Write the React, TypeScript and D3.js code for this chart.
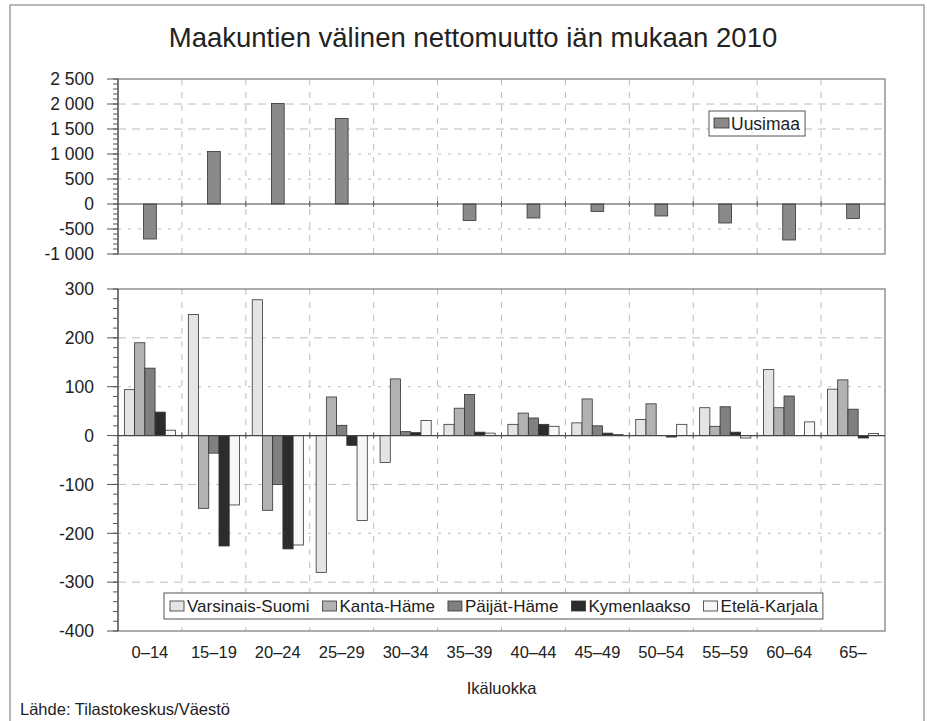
import React, { useEffect, useRef } from "react";
import * as d3 from "d3";

// age groups (x categories)
const categories = ["0–14", "15–19", "20–24", "25–29", "30–34", "35–39", "40–44", "45–49", "50–54", "55–59", "60–64", "65–"];

// top panel
const uusimaa = [-700, 1050, 2010, 1710, 0, -330, -280, -150, -240, -380, -720, -290];
const topTicks = [2500, 2000, 1500, 1000, 500, 0, -500, -1000];

// bottom panel, one array per region
const regionNames = ["Varsinais-Suomi", "Kanta-Häme", "Päijät-Häme", "Kymenlaakso", "Etelä-Karjala"];
const varsinaisSuomi = [94, 248, 278, -280, -55, 23, 23, 26, 33, 57, 135, 95];
const kantaHame = [190, -149, -153, 79, 116, 56, 46, 75, 65, 19, 57, 114];
const paijatHame = [138, -36, -100, 21, 8, 84, 36, 20, 0, 59, 81, 54];
const kymenlaakso = [48, -226, -232, -20, 6, 7, 23, 5, -3, 7, 0, -5];
const etelaKarjala = [11, -142, -224, -174, 31, 5, 19, 2, 23, -5, 28, 4];
const bottomTicks = [300, 200, 100, 0, -100, -200, -300, -400];

const title = "Maakuntien välinen nettomuutto iän mukaan 2010";
const xTitle = "Ikäluokka";
const source = "Lähde: Tilastokeskus/Väestö";

const regionColors = ["#e4e4e4", "#b2b2b2", "#808080", "#2c2c2c", "#f7f7f7"];
const uusimaaColor = "#8a8a8a";
const font = "'Liberation Sans', Arial, sans-serif";

const fiFormat = d3.formatLocale({
  decimal: ",",
  thousands: " ",
  grouping: [3],
  currency: ["", " €"],
  minus: "-",
}).format(",d");

export default function App() {
  const ref = useRef<SVGSVGElement>(null);

  useEffect(() => {
    document.body.style.margin = "0";
    const svg = d3.select(ref.current);
    svg.selectAll("*").remove();

    const left = 118;
    const right = 885;

    // outer frame
    svg
      .append("rect")
      .attr("x", 10)
      .attr("y", 5)
      .attr("width", 914)
      .attr("height", 740)
      .attr("fill", "white")
      .attr("stroke", "#8a8a8a")
      .attr("stroke-width", 1.2);

    svg
      .append("text")
      .attr("x", 473)
      .attr("y", 47)
      .attr("text-anchor", "middle")
      .attr("font-size", 27.5)
      .attr("fill", "#222")
      .text(title);

    const x = d3.scaleBand().domain(categories).range([left, right]).paddingInner(0).paddingOuter(0);

    // draws frame, grid, y axis for a panel
    function panel(y: d3.ScaleLinear<number, number>, ticks: number[], minorStep: number, longDash: number[]) {
      const [lo, hi] = y.domain();
      const g = svg.append("g");
      const top = y(hi);
      const bottom = y(lo);

      // horizontal grid
      g.selectAll("line.hgrid")
        .data(ticks.filter((t) => t !== 0 && t !== hi && t !== lo))
        .join("line")
        .attr("x1", left)
        .attr("x2", right)
        .attr("y1", (d) => y(d))
        .attr("y2", (d) => y(d))
        .attr("stroke", "#bcbcbc")
        .attr("stroke-width", 1)
        .attr("stroke-dasharray", (d) => (longDash.includes(d) ? "8,6" : "3,7"));

      // vertical grid at category boundaries
      g.selectAll("line.vgrid")
        .data(categories.slice(1))
        .join("line")
        .attr("x1", (d) => x(d)!)
        .attr("x2", (d) => x(d)!)
        .attr("y1", top)
        .attr("y2", bottom)
        .attr("stroke", "#bcbcbc")
        .attr("stroke-dasharray", "6,7");

      // plot border
      g.append("rect")
        .attr("x", left)
        .attr("y", top)
        .attr("width", right - left)
        .attr("height", bottom - top)
        .attr("fill", "none")
        .attr("stroke", "#777")
        .attr("stroke-width", 1.2);

      // minor ticks
      g.selectAll("line.minor")
        .data(d3.range(lo, hi + 0.001, minorStep))
        .join("line")
        .attr("x1", left - 5)
        .attr("x2", left)
        .attr("y1", (d) => y(d))
        .attr("y2", (d) => y(d))
        .attr("stroke", "#555");

      // major ticks + labels
      g.selectAll("line.major")
        .data(ticks)
        .join("line")
        .attr("x1", left - 11)
        .attr("x2", left)
        .attr("y1", (d) => y(d))
        .attr("y2", (d) => y(d))
        .attr("stroke", "#555");

      g.selectAll("text.tick")
        .data(ticks)
        .join("text")
        .attr("x", 94)
        .attr("y", (d) => y(d))
        .attr("dy", "0.36em")
        .attr("text-anchor", "end")
        .attr("font-size", 17.5)
        .attr("fill", "#222")
        .text((d) => fiFormat(d));

      // left axis line
      g.append("line")
        .attr("x1", left)
        .attr("x2", left)
        .attr("y1", top)
        .attr("y2", bottom)
        .attr("stroke", "#555")
        .attr("stroke-width", 1.2);

      return g;
    }

    function zeroLine(y: d3.ScaleLinear<number, number>) {
      svg
        .append("line")
        .attr("x1", left)
        .attr("x2", right)
        .attr("y1", y(0))
        .attr("y2", y(0))
        .attr("stroke", "#444")
        .attr("stroke-width", 1.2);
      svg
        .append("g")
        .selectAll("line")
        .data(categories.slice(1))
        .join("line")
        .attr("x1", (d) => x(d)!)
        .attr("x2", (d) => x(d)!)
        .attr("y1", y(0) - 3)
        .attr("y2", y(0) + 3)
        .attr("stroke", "#555");
    }

    // ---------- top panel: Uusimaa ----------
    const yTop = d3.scaleLinear().domain([-1000, 2500]).range([254, 79]);
    panel(yTop, topTicks, 100, [2000, 1500]);

    const topBarW = x.bandwidth() * 0.2;
    svg
      .append("g")
      .selectAll("rect")
      .data(uusimaa)
      .join("rect")
      .attr("x", (d, i) => x(categories[i])! + (x.bandwidth() - topBarW) / 2)
      .attr("y", (d) => yTop(Math.max(0, d)))
      .attr("width", topBarW)
      .attr("height", (d) => Math.abs(yTop(d) - yTop(0)))
      .attr("fill", uusimaaColor)
      .attr("stroke", "#333")
      .attr("stroke-width", 0.8);
    zeroLine(yTop);

    // top legend
    const tl = svg.append("g");
    const tlBox = tl
      .append("rect")
      .attr("x", 709)
      .attr("y", 111)
      .attr("height", 25)
      .attr("fill", "white")
      .attr("stroke", "#555");
    tl.append("rect")
      .attr("x", 714)
      .attr("y", 118)
      .attr("width", 15)
      .attr("height", 10)
      .attr("fill", uusimaaColor)
      .attr("stroke", "#333")
      .attr("stroke-width", 0.8);
    const tlText = tl
      .append("text")
      .attr("x", 731)
      .attr("y", 123.5)
      .attr("dy", "0.36em")
      .attr("font-size", 17.5)
      .attr("fill", "#222")
      .text("Uusimaa");
    tlBox.attr("width", (tlText.node() as SVGTextElement).getComputedTextLength() + 27);

    // ---------- bottom panel: other regions ----------
    const yBot = d3.scaleLinear().domain([-400, 300]).range([631, 289]);
    panel(yBot, bottomTicks, 20, [200, -100, -300]);

    const series = [varsinaisSuomi, kantaHame, paijatHame, kymenlaakso, etelaKarjala];
    const inner = d3
      .scaleBand()
      .domain(regionNames)
      .range([x.bandwidth() * 0.1, x.bandwidth() * 0.9])
      .paddingInner(0);

    series.forEach((vals, s) => {
      svg
        .append("g")
        .selectAll("rect")
        .data(vals)
        .join("rect")
        .attr("x", (d, i) => x(categories[i])! + inner(regionNames[s])!)
        .attr("y", (d) => yBot(Math.max(0, d)))
        .attr("width", inner.bandwidth())
        .attr("height", (d) => Math.abs(yBot(d) - yBot(0)))
        .attr("fill", regionColors[s])
        .attr("stroke", "#333")
        .attr("stroke-width", 0.8);
    });
    zeroLine(yBot);

    // bottom legend
    const bl = svg.append("g");
    const blBox = bl
      .append("rect")
      .attr("x", 164)
      .attr("y", 593)
      .attr("height", 26)
      .attr("fill", "white")
      .attr("stroke", "#555");
    let cx = 170;
    regionNames.forEach((name, s) => {
      bl.append("rect")
        .attr("x", cx)
        .attr("y", 601)
        .attr("width", 14)
        .attr("height", 10)
        .attr("fill", regionColors[s])
        .attr("stroke", "#333")
        .attr("stroke-width", 0.8);
      const t = bl
        .append("text")
        .attr("x", cx + 17)
        .attr("y", 606)
        .attr("dy", "0.36em")
        .attr("font-size", 17)
        .attr("fill", "#222")
        .text(name);
      cx += 17 + (t.node() as SVGTextElement).getComputedTextLength() + 13;
    });
    blBox.attr("width", cx - 164 - 8);

    // x labels
    svg
      .append("g")
      .selectAll("text")
      .data(categories)
      .join("text")
      .attr("x", (d) => x(d)! + x.bandwidth() / 2)
      .attr("y", 658)
      .attr("text-anchor", "middle")
      .attr("font-size", 16.5)
      .attr("fill", "#222")
      .text((d) => d);

    svg
      .append("text")
      .attr("x", (left + right) / 2)
      .attr("y", 694)
      .attr("text-anchor", "middle")
      .attr("font-size", 16.5)
      .attr("fill", "#222")
      .text(xTitle);

    svg
      .append("text")
      .attr("x", 20)
      .attr("y", 715)
      .attr("font-size", 16.5)
      .attr("fill", "#222")
      .text(source);
  }, []);

  return <svg ref={ref} width={927} height={721} style={{ display: "block", fontFamily: font }} />;
}
